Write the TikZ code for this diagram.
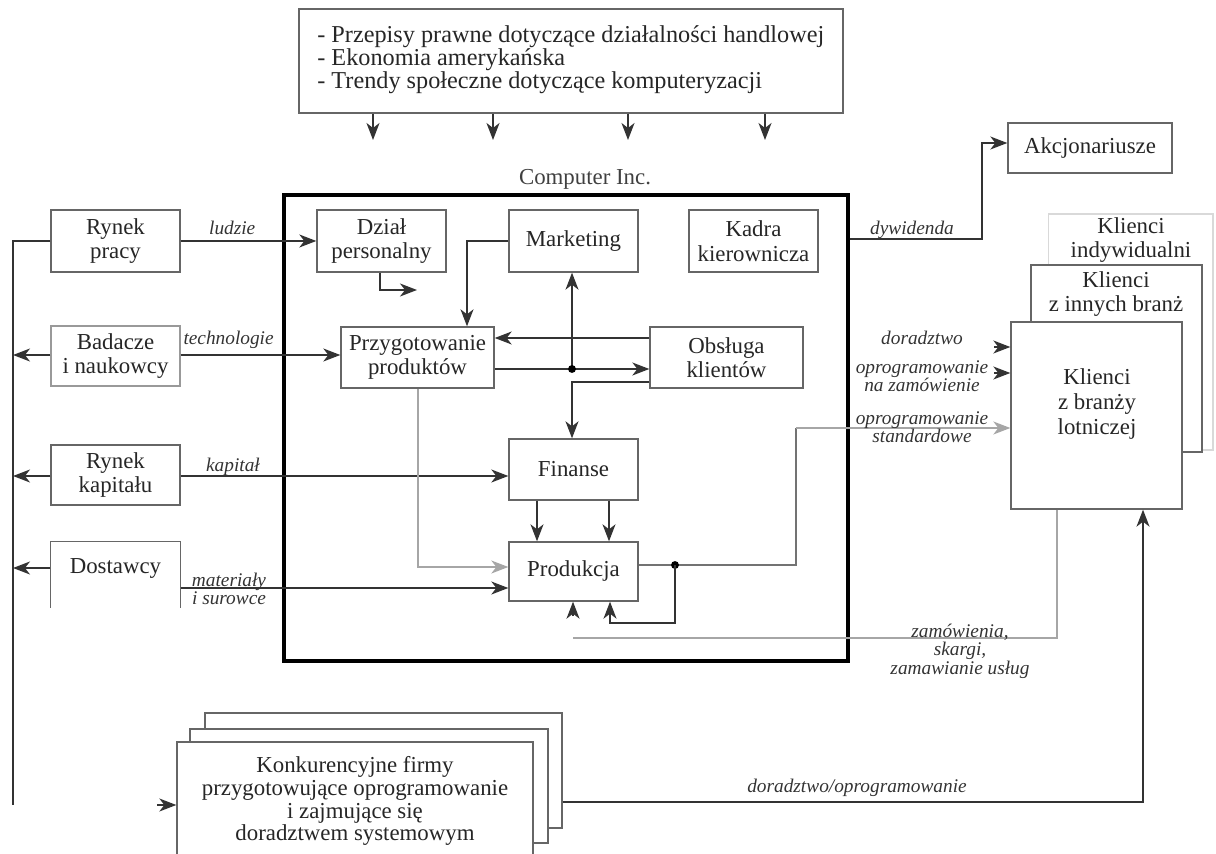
\documentclass[tikz,border=0pt]{standalone}
\usepackage{fontspec}
\setmainfont{Liberation Serif}
\usetikzlibrary{arrows.meta, positioning, calc}

\tikzset{
  box/.style={draw=black!60, line width=0.8pt, fill=white, align=center, inner sep=1pt,
    font=\fontsize{13}{14}\selectfont, text=black!85},
  unit/.style={box, minimum width=2.58cm, minimum height=1.24cm},
  flow/.style={draw=black!80, line width=0.8pt},
  pale/.style={draw=black!15, line width=0.6pt},
  arr/.style={flow, -{Stealth[length=3.4mm,width=2.6mm,inset=1mm]}},
  lbl/.style={font=\fontsize{11}{10.5}\selectfont\itshape, text=black!80, align=center, inner sep=0pt},
  hub/.style={circle, fill=black, inner sep=0pt, minimum size=4.5pt}
}

\begin{document}
\begin{tikzpicture}[x=0.02cm, y=-0.02cm]
  \useasboundingbox (0,0) rectangle (1216,854);
  \clip (0,0) rectangle (1216,854);

  % otoczenie
  \node[box, minimum width=10.88cm, minimum height=2.08cm] (otoczenie) at (571,61) {};
  \node[anchor=west, align=left, inner sep=0pt, text=black!85, font=\fontsize{13.8}{13}\selectfont]
    (otoczenietxt) at (317,60)
    {- Przepisy prawne dotyczące działalności handlowej\\
     - Ekonomia amerykańska\\
     - Trendy społeczne dotyczące komputeryzacji};
  \foreach \x in {373,493,628,765}
    \draw[arr] (\x,0 |- otoczenie.south) -- (\x,140);

  % firma
  \node[draw, line width=1.8pt, minimum width=11.28cm, minimum height=9.32cm] (firma) at (566,428) {};
  \node[font=\fontsize{13}{14}\selectfont, text=black!75] (nazwa) at (585,179) {Computer Inc.};

  \node[unit] (dzial) at (381.5,241) {Dział\\personalny};
  \node[unit] (marketing) at (573.5,241) {Marketing};
  \node[unit] (kadra) at (753.5,241) {Kadra\\kierownicza};
  \node[unit, minimum width=3.06cm, minimum height=1.22cm] (przyg) at (417.5,357.5) {Przygotowanie\\produktów};
  \node[unit, minimum width=3.06cm, minimum height=1.22cm] (obsluga) at (726.5,357.5) {Obsługa\\klientów};
  \node[unit, minimum height=1.22cm] (finanse) at (573.5,469.5) {Finanse};
  \node[unit, minimum height=1.18cm] (prod) at (573.5,571.5) {Produkcja};

  % otoczenie lewe
  \node[unit] (rpracy) at (115.5,241) {Rynek\\pracy};
  \node[unit, draw=black!40, minimum height=1.2cm] (badacze) at (115.5,356) {Badacze\\i naukowcy};
  \node[unit, minimum height=1.2cm] (rkap) at (115.5,475) {Rynek\\kapitału};
  \node[unit, draw=none, minimum height=1.04cm] (dost) at (115.5,568) {Dostawcy};
  \draw[draw=black!60, line width=0.8pt] ($(dost.south west)+(0,13)$) -- (dost.north west)
    -- (dost.north east) -- ($(dost.south east)+(0,13)$);

  % otoczenie prawe
  \node[box] (akcj) at (1090,148) [minimum width=3.28cm, minimum height=1cm] {Akcjonariusze};
  \node[pale, minimum width=3.3cm, minimum height=4.72cm] (indyw) at (1130.5,332) {};
  \node[font=\fontsize{13}{14}\selectfont, text=black!85, align=center] (indywtxt) at (1131,240) {Klienci\\indywidualni};
  \node[box, minimum width=3.42cm, minimum height=3.74cm] (inne) at (1116.5,358.5) {};
  \node[font=\fontsize{13}{14}\selectfont, text=black!85, align=center] (innetxt) at (1116,294) {Klienci\\z innych branż};
  \node[box, minimum width=3.42cm, minimum height=3.74cm] (lot) at (1096.5,415.5) {};
  \node[font=\fontsize{13}{14}\selectfont, text=black!85, align=center] (lottxt) at (1097,404) {Klienci\\z branży\\lotniczej};

  % konkurencja
  \node[box, minimum width=7.14cm, minimum height=2.3cm] (konk3) at (383.5,770.5) {};
  \node[box, minimum width=7.16cm, minimum height=2.28cm] (konk2) at (369,786) {};
  \node[box, minimum width=7.12cm, minimum height=2.36cm, font=\fontsize{13}{13}\selectfont] (konk1) at (355,801)
    {Konkurencyjne firmy\\przygotowujące oprogramowanie\\i zajmujące się\\doradztwem systemowym};

  % przeplywy z lewej
  \coordinate (szyna) at (13,241);
  \coordinate (szynadol) at (13,805);
  \draw[flow] (rpracy.west) -- (szyna) -- (szynadol);
  \draw[arr] (badacze.west |- 0,355) -- (szyna |- 0,355);
  \draw[arr] (rkap.west |- 0,476) -- (szyna |- 0,476);
  \draw[arr] (dost.west) -- (szyna |- dost.west);
  \draw[arr] (157,805) -- (konk1.west |- 0,805);

  \draw[arr] (rpracy.east) -- (dzial.west) node[lbl, pos=0.38, above=3pt] {ludzie};
  \draw[arr] (badacze.east |- 0,355) -- (przyg.west |- 0,355) node[lbl, pos=0.3, above=3pt] {technologie};
  \draw[arr] (rkap.east |- 0,476) -- (finanse.west |- 0,476);
  \node[lbl] (lkap) at (233,467) {kapitał};
  \draw[arr] (dost.east |- 0,588) -- (prod.west |- 0,588);
  \node[lbl, font=\fontsize{11}{8.5}\selectfont\itshape] (lmat) at (229,589) {materiały\\i surowce};

  % przeplywy wewnatrz
  \coordinate (kadrypkt) at (417,290);
  \draw[arr] (dzial.south -| 380,0) |- (kadrypkt);
  \draw[arr] (marketing.west) -| (przyg.north -| 467,0);
  \draw[arr] (obsluga.west |- 0,338) -- (przyg.east |- 0,338);
  \coordinate (wezel) at (572,369);
  \draw[arr] (przyg.east |- 0,369) -- (obsluga.west |- 0,369);
  \draw[arr] (wezel) -- (wezel |- marketing.south);
  \node[hub] at (wezel) {};
  \draw[arr] (obsluga.west |- 0,382) -| (finanse.north -| wezel);
  \foreach \x in {537,609}
    \draw[arr] (finanse.south -| \x,0) -- (prod.north -| \x,0);
  \draw[arr, draw=black!35] (przyg.south -| 418,0) |- (prod.west |- 0,567);

  % produkcja -> klienci
  \coordinate (wezel2) at (675,565);
  \draw[flow, draw=black!55] (prod.east |- wezel2) -- (wezel2) -- (796,565) -- (796,428);
  \draw[arr, draw=black!35] (796,428) -- (lot.west |- 0,428);
  \node[hub] at (wezel2) {};
  \draw[arr] (wezel2) -- (675,623) -| (prod.south -| 610,0);
  \draw[arr] (573,616) -- (prod.south -| 573,0);

  \draw[arr] (994,347) -- (lot.west |- 0,347);
  \draw[arr] (994,373) -- (lot.west |- 0,373);
  \node[lbl] (ldor) at (922,338) {doradztwo};
  \node[lbl] (lzam) at (922,376) {oprogramowanie\\na zamówienie};
  \node[lbl] (lstd) at (922,427) {oprogramowanie\\standardowe};

  % dywidenda
  \draw[arr] (firma.east |- 0,239) -| (982,143) -- (akcj.west |- 0,143);
  \node[lbl] (ldyw) at (912,230) {dywidenda};

  % zamowienia
  \draw[flow, draw=black!35] (lot.south -| 1057,0) |- (573,638);
  \node[lbl] (lzamow) at (960,651) {zamówienia,\\skargi,\\zamawianie usług};

  % konkurencja -> klienci
  \draw[arr] (konk3.east |- 0,802) -| (lot.south -| 1143,0);
  \node[lbl] (ldorop) at (857,788) {doradztwo/oprogramowanie};
\end{tikzpicture}
\end{document}
